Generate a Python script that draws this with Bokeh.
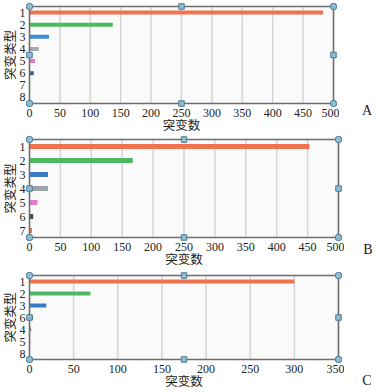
from bokeh.plotting import figure
from bokeh.layouts import column, row
from bokeh.models import Range1d, FixedTicker, Div
from bokeh.embed import file_html
from bokeh.resources import INLINE

# ---- Panel A ----
a_types = ["1", "2", "3", "4", "5", "6", "7", "8"]
a_counts = [483, 137, 32, 15, 9, 7, 1, 0]
a_colors = ["#f0734f", "#4cb862", "#3a8fd0", "#a3a9ae", "#e07ac4", "#3b5f82", "#9aa4ad", "#9aa4ad"]
a_ticks = [0, 50, 100, 150, 200, 250, 300, 350, 400, 450, 500]

# ---- Panel B ----
b_types = ["1", "2", "3", "4", "5", "6", "7"]
b_counts = [453, 167, 30, 30, 13, 6, 4]
b_colors = ["#f0734f", "#4cb862", "#3a7cc4", "#9ea3a8", "#df7cc4", "#4a4a4a", "#f0734f"]
b_ticks = [0, 50, 100, 150, 200, 250, 300, 350, 400, 450, 500]

# ---- Panel C ----
c_types = ["1", "2", "3", "6", "4", "5", "8"]
c_counts = [300, 69, 19, 4, 2, 1, 0]
c_colors = ["#f0734f", "#4cb862", "#3a7cc4", "#3f4650", "#8c8f93", "#e07ac4", "#9aa4ad"]
c_ticks = [0, 50, 100, 150, 200, 250, 300, 350]

x_title = "突变数"
y_title = "突变类型"

SERIF = "Liberation Serif"
TITLE_FONT = "Liberation Serif, Noto Sans CJK SC"
TXT = "#222222"
PAD = 4
W = 376


def panel(types, counts, colors, ticks, letter, left, box_w, top, box_h, bottom,
          letter_cx, letter_cy):
    n = len(types)
    xmax = ticks[-1]
    ux = xmax / box_w
    uy = n / box_h
    pos = list(range(1, n + 1))
    fw = box_w + 2 * PAD
    fh = box_h + 2 * PAD
    H = top + fh + bottom
    fig_w = left + fw + 2
    p = figure(width=fig_w, height=H,
               x_range=Range1d(-PAD * ux, xmax + PAD * ux),
               y_range=Range1d(n + 0.5 + PAD * uy, 0.5 - PAD * uy),
               output_backend="svg", toolbar_location=None,
               min_border_left=left, min_border_right=2,
               min_border_top=top, min_border_bottom=bottom)
    p.outline_line_color = None
    p.background_fill_color = "white"
    p.border_fill_color = "white"
    p.grid.visible = False

    p.quad(left=[0], right=[xmax], bottom=[n + 0.5], top=[0.5],
           fill_color="#fafafa", line_color=None)
    p.segment(x0=ticks, x1=ticks, y0=[0.5] * len(ticks), y1=[n + 0.5] * len(ticks),
              line_color="#d4d4d4", line_width=1.5)
    p.hbar(y=pos, left=0, right=counts, height=0.34, fill_color=colors,
           line_color=None)
    p.quad(left=[0], right=[xmax], bottom=[n + 0.5], top=[0.5],
           fill_color=None, line_color="#6e6e6e", line_width=1.5)
    p.scatter(x=[0, xmax, 0, xmax], y=[0.5, 0.5, n + 0.5, n + 0.5], marker="circle",
              size=6.5, fill_color="#8fbcd0", line_color="#4a7c94", line_width=1)
    p.scatter(x=[xmax / 2, xmax / 2, 0, xmax], y=[0.5, n + 0.5, (n + 1) / 2, (n + 1) / 2],
              marker="square", size=5.5, fill_color="#8fbcd0", line_color="#4a7c94",
              line_width=1)

    p.xaxis.ticker = FixedTicker(ticks=ticks)
    p.yaxis.ticker = FixedTicker(ticks=pos)
    p.yaxis.major_label_overrides = {k: t for k, t in zip(pos, types)}
    for ax in (p.xaxis, p.yaxis):
        ax.axis_line_color = None
        ax.major_tick_line_color = None
        ax.minor_tick_line_color = None
        ax.major_label_text_font = SERIF
        ax.major_label_text_font_size = "12px"
        ax.major_label_text_color = TXT
        ax.axis_label_text_font = TITLE_FONT
        ax.axis_label_text_font_size = "12.5px"
        ax.axis_label_text_font_style = "normal"
        ax.axis_label_text_color = TXT
    p.xaxis.axis_label = x_title
    p.yaxis.axis_label = y_title
    p.xaxis.major_label_standoff = -5
    p.xaxis.axis_label_standoff = -1
    p.yaxis.major_label_standoff = -6
    p.yaxis.axis_label_standoff = -1

    # panel letter, in a narrow column to the right of the plot
    dw = W - fig_w
    html = ('<div style="position:relative;width:%dpx;height:%dpx;">'
            '<span style="position:absolute;left:%dpx;top:%dpx;width:20px;text-align:center;'
            "font-family:'Liberation Serif',serif;font-size:14px;line-height:16px;"
            'color:%s;">%s</span></div>') % (dw, H, letter_cx - fig_w - 10, letter_cy - 8,
                                            TXT, letter)
    d = Div(text=html, width=dw, height=H, margin=0)
    return row(p, d, spacing=0)


ra = panel(a_types, a_counts, a_colors, a_ticks, "A", 25, 304, 2, 97, 28, 367, 111)
rb = panel(b_types, b_counts, b_colors, b_ticks, "B", 25, 309, 0, 98, 30, 368, 115)
rc = panel(c_types, c_counts, c_colors, c_ticks, "C", 25, 309, 0, 84, 29, 367, 110)

layout = column(ra, rb, rc, spacing=0)
open("out.html", "w").write(file_html(layout, INLINE))
